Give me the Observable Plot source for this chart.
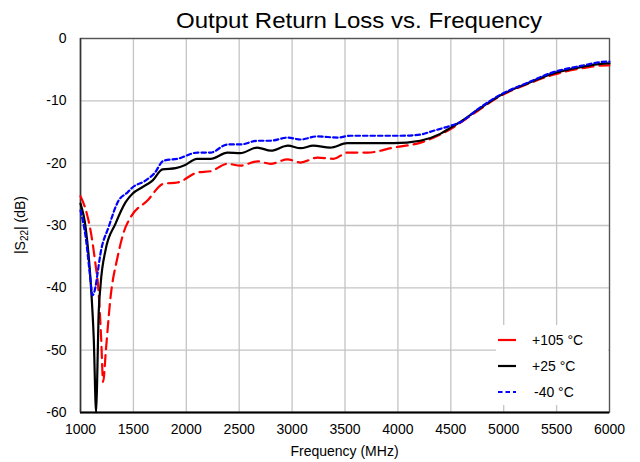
<!DOCTYPE html>
<html>
<head>
<meta charset="utf-8">
<script src="https://cdn.jsdelivr.net/npm/d3@7"></script>
<script src="https://cdn.jsdelivr.net/npm/@observablehq/plot@0.6"></script>
<style>
  html, body { margin: 0; padding: 0; background: #fff; }
  #chart { position: relative; width: 640px; height: 462px; }
  svg { font-family: "Liberation Sans", Arial, sans-serif; }
</style>
</head>
<body>
<div id="chart"></div>
<script>
// ---- data ----
const seriesNames = ["+105 °C", "+25 °C", "-40 °C"];
const seriesColors = ["#ff0000", "#000000", "#0000ff"];

const freqHot = [1000,1050,1095,1140,1170,1195,1214,1240,1284,1350,1410,1473,1633,1785,1917,2106,2229,2389,2512,2673,2796,2957,3079,3240,3391,3524,3713,3959,4214,4469,4687,4970,5225,5470,5730,5980,6000];
const s22Hot  = [-25.3,-27.5,-30.8,-36,-40.4,-48,-55.1,-50,-41.5,-35.1,-31,-28.7,-26.0,-23.3,-23.1,-21.5,-21.3,-20.1,-20.4,-19.7,-20.1,-19.4,-19.9,-19.1,-19.3,-18.3,-18.3,-17.5,-16.7,-14.8,-12.4,-9.2,-7.3,-5.8,-4.8,-4.3,-4.3];

const freqRoom = [1000,1050,1095,1125,1148,1160,1170,1190,1236,1331,1425,1491,1580,1680,1775,1900,1990,2100,2230,2390,2510,2670,2800,2960,3080,3200,3360,3520,3710,3960,4210,4400,4500,4590,4750,4970,5225,5470,5730,5980,6000];
const s22Room  = [-26.5,-30.5,-38.8,-48,-60,-52.8,-45,-39.5,-34.0,-29.7,-26.3,-24.9,-23.9,-22.8,-21.0,-20.8,-20.3,-19.3,-19.3,-18.3,-18.4,-17.5,-18.0,-17.2,-17.6,-17.2,-17.5,-16.8,-16.8,-16.8,-16.4,-15.3,-14.3,-13.4,-11.5,-9.1,-7.2,-5.6,-4.6,-4.0,-4.0];

const freqCold = [1000,1050,1090,1113,1140,1161,1189,1265,1360,1444,1491,1614,1700,1785,1917,2106,2229,2389,2512,2673,2796,2957,3079,3240,3429,3552,3835,4025,4214,4337,4497,4592,4750,4970,5225,5470,5730,5980,6000];
const s22Cold  = [-27.6,-32,-38,-41.2,-40,-37.7,-34.5,-30.3,-26.0,-24.7,-23.9,-22.8,-21.6,-19.6,-19.3,-18.3,-18.3,-17.0,-17.0,-16.4,-16.4,-15.9,-16.2,-15.7,-15.9,-15.6,-15.6,-15.6,-15.4,-14.8,-14.0,-13.4,-11.4,-9.0,-7.1,-5.4,-4.4,-3.7,-3.7];

const xTicks = [1000,1500,2000,2500,3000,3500,4000,4500,5000,5500,6000];
const yTicks = [0,-10,-20,-30,-40,-50,-60];

const toRows = (fs, vs, name) => fs.map((f, i) => ({f, v: vs[i], name}));
const hot  = toRows(freqHot,  s22Hot,  seriesNames[0]);
const room = toRows(freqRoom, s22Room, seriesNames[1]);
const cold = toRows(freqCold, s22Cold, seriesNames[2]);

const W = 640, H = 462;
const mL = 80, mR = 31, mT = 38, mB = 50;

const plot = Plot.plot({
  width: W, height: H,
  marginLeft: mL, marginRight: mR, marginTop: mT, marginBottom: mB,
  style: {fontFamily: "'Liberation Sans', Arial, sans-serif", fontSize: "14px", color: "#000", background: "#fff"},
  x: {domain: [1000, 6000], ticks: xTicks, tickSize: 0, tickPadding: 12, tickFormat: d => String(d), label: null},
  y: {domain: [-60, 0], ticks: yTicks, tickSize: 0, tickPadding: 14, tickFormat: d => String(d), label: null},
  marks: [
    Plot.gridX(xTicks, {stroke: "#c4c4c4", strokeOpacity: 1, strokeWidth: 1.3}),
    Plot.gridY(yTicks, {stroke: "#c4c4c4", strokeOpacity: 1, strokeWidth: 1.3}),
    Plot.frame({stroke: "#555", strokeWidth: 1.3}),
    Plot.ruleY([-60], {stroke: "#000", strokeWidth: 2.2}),
    Plot.ruleX([1000], {stroke: "#333", strokeWidth: 1.5}),
    Plot.line(hot,  {x: "f", y: "v", stroke: seriesColors[0], strokeWidth: 2.2, strokeDasharray: "11,6", curve: "monotone-x"}),
    Plot.line(room, {x: "f", y: "v", stroke: seriesColors[1], strokeWidth: 2.2, curve: "monotone-x"}),
    Plot.line(cold, {x: "f", y: "v", stroke: seriesColors[2], strokeWidth: 2.2, strokeDasharray: "4.5,3", curve: "monotone-x"})
  ]
});

const svg = d3.select(plot);

// Title
svg.append("text")
  .attr("x", 359).attr("y", 28)
  .attr("text-anchor", "middle")
  .attr("font-size", 22).attr("fill", "#000")
  .attr("textLength", 366).attr("lengthAdjust", "spacingAndGlyphs")
  .text("Output Return Loss vs. Frequency");

// X axis title
svg.append("text")
  .attr("x", (mL + W - mR) / 2).attr("y", 456)
  .attr("text-anchor", "middle")
  .attr("font-size", 14).attr("fill", "#000")
  .text("Frequency (MHz)");

// Y axis title with subscript
const yt = svg.append("text")
  .attr("transform", `translate(25,${(mT + H - mB) / 2}) rotate(-90)`)
  .attr("text-anchor", "middle")
  .attr("font-size", 14).attr("fill", "#000");
yt.append("tspan").text("|S");
yt.append("tspan").attr("font-size", 10).attr("dy", 3).text("22");
yt.append("tspan").attr("dy", -3).text("| (dB)");

// Legend
const lg = svg.append("g").attr("transform", "translate(496,325)");
lg.append("rect").attr("width", 112).attr("height", 80).attr("fill", "#fff");
const rowsY = [15, 41, 67];
seriesNames.forEach((n, i) => {
  const ln = lg.append("line")
    .attr("x1", 2).attr("x2", 20).attr("y1", rowsY[i]).attr("y2", rowsY[i])
    .attr("stroke", seriesColors[i]).attr("stroke-width", 2.2);
  if (i === 0) ln.attr("stroke-dasharray", "18,4");
  if (i === 2) ln.attr("stroke-dasharray", "4.5,3");
  lg.append("text")
    .attr("x", i === 2 ? 38 : 36).attr("y", rowsY[i] + 5)
    .attr("text-anchor", "start")
    .attr("font-size", 14).attr("fill", "#000")
    .text(n);
});

document.getElementById("chart").appendChild(plot);
</script>
</body>
</html>
